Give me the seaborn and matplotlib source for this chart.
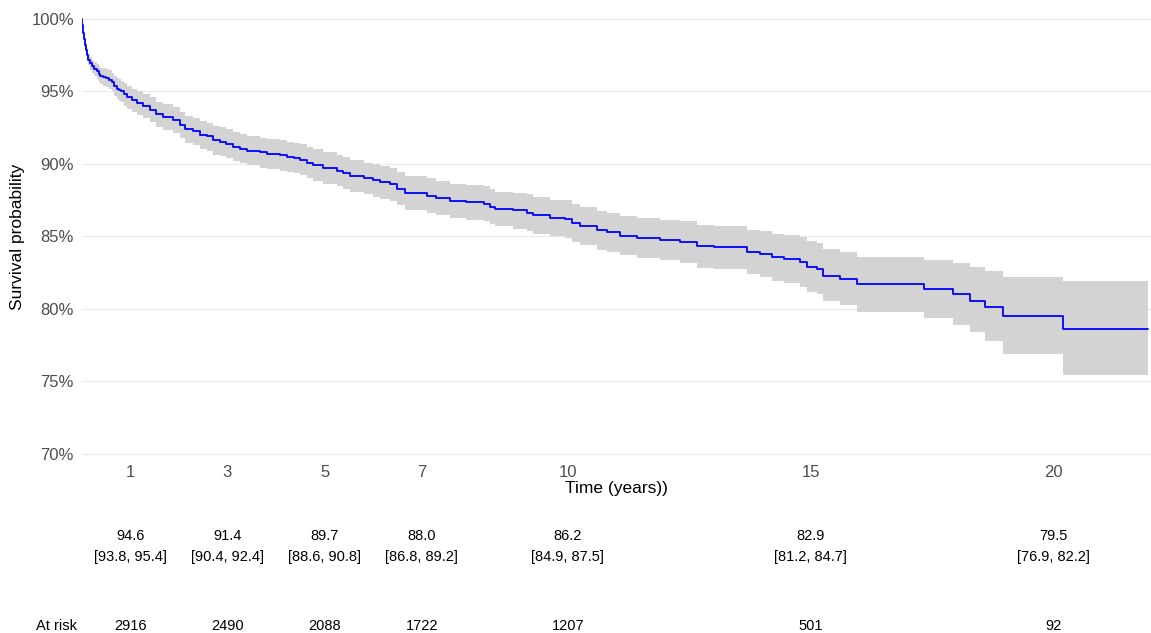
import numpy as np
import pandas as pd
import matplotlib
matplotlib.use("Agg")
import matplotlib.pyplot as plt
import seaborn as sns
from matplotlib.ticker import FuncFormatter
from matplotlib.transforms import blended_transform_factory

# Kaplan-Meier step nodes (years) with survival estimate and 95% CI (%)
times = [0, 0.01, 0.02, 0.034, 0.05, 0.07, 0.09, 0.11, 0.137, 0.17, 0.206, 0.25, 0.309,
         0.35, 0.38, 0.45, 0.51, 0.57, 0.62, 0.67, 0.72, 0.77, 0.82, 0.88, 0.93,
         1.03, 1.13, 1.27, 1.41, 1.54, 1.68, 1.89, 2.02, 2.13, 2.30, 2.43, 2.57, 2.71,
         2.85, 2.98, 3.12, 3.26, 3.40, 3.67, 3.81, 4.08, 4.22, 4.36, 4.49, 4.63, 4.77,
         4.97, 5.25, 5.38, 5.52, 5.80, 6.00, 6.14, 6.34, 6.48, 6.65, 7.10, 7.30, 7.58,
         7.90, 8.27, 8.40, 8.51, 8.88, 9.16, 9.29, 9.64, 9.95, 10.08, 10.26, 10.60,
         10.80, 11.08, 11.42, 11.90, 12.31, 12.66, 13.00, 13.68, 13.96, 14.20, 14.44,
         14.78, 14.92, 15.12, 15.26, 15.60, 15.95, 17.32, 17.92, 18.28, 18.59, 18.95,
         20.19, 21.94]
surv = [100, 99.6, 99.35, 99.0, 98.6, 98.2, 97.88, 97.5, 97.2, 96.95, 96.73, 96.55, 96.38,
        96.2, 96.08, 96.0, 95.92, 95.8, 95.65, 95.4, 95.2, 95.1, 95.0, 94.8, 94.6,
        94.4, 94.2, 94.0, 93.75, 93.45, 93.25, 93.05, 92.7, 92.4, 92.25, 92.0, 91.9, 91.65,
        91.55, 91.4, 91.2, 91.05, 90.9, 90.8, 90.7, 90.6, 90.5, 90.4, 90.3, 90.1, 89.95,
        89.7, 89.55, 89.35, 89.2, 89.0, 88.9, 88.75, 88.6, 88.3, 88.0, 87.8, 87.65, 87.45,
        87.35, 87.25, 87.05, 86.9, 86.8, 86.65, 86.45, 86.3, 86.2, 85.95, 85.7, 85.45,
        85.3, 85.05, 84.9, 84.75, 84.6, 84.35, 84.25, 83.95, 83.8, 83.6, 83.45,
        83.25, 82.9, 82.75, 82.3, 82.1, 81.7, 81.4, 81.0, 80.55, 80.15, 79.5,
        78.6, 78.6]
lower = [100, 99.5, 99.2, 98.8, 98.35, 97.9, 97.55, 97.15, 96.8, 96.5, 96.25, 96.05, 95.85,
         95.65, 95.5, 95.4, 95.3, 95.15, 95.0, 94.7, 94.5, 94.35, 94.25, 94.0, 93.8,
         93.6, 93.35, 93.15, 92.9, 92.55, 92.35, 92.15, 91.8, 91.45, 91.3, 91.05, 90.9, 90.65,
         90.55, 90.4, 90.2, 90.05, 89.9, 89.75, 89.65, 89.55, 89.45, 89.35, 89.25, 89.05, 88.85,
         88.6, 88.45, 88.25, 88.1, 87.9, 87.75, 87.6, 87.45, 87.15, 86.8, 86.6, 86.45, 86.25,
         86.15, 86.05, 85.85, 85.7, 85.55, 85.4, 85.2, 85.0, 84.9, 84.65, 84.4, 84.1,
         83.95, 83.7, 83.5, 83.35, 83.15, 82.85, 82.75, 82.4, 82.2, 81.95, 81.8,
         81.55, 81.2, 81.05, 80.55, 80.3, 79.8, 79.4, 78.9, 78.4, 77.8, 76.9,
         75.45, 75.45]
upper = [100, 99.7, 99.5, 99.2, 98.85, 98.5, 98.2, 97.85, 97.6, 97.4, 97.2, 97.05, 96.9,
         96.75, 96.65, 96.6, 96.54, 96.45, 96.3, 96.1, 95.9, 95.85, 95.75, 95.6, 95.4,
         95.2, 95.05, 94.85, 94.6, 94.3, 94.15, 93.95, 93.6, 93.3, 93.2, 92.95, 92.85, 92.65,
         92.55, 92.4, 92.2, 92.05, 91.9, 91.8, 91.7, 91.65, 91.55, 91.45, 91.35, 91.15, 91.0,
         90.8, 90.65, 90.45, 90.3, 90.1, 90.0, 89.85, 89.7, 89.45, 89.2, 89.0, 88.85, 88.65,
         88.55, 88.45, 88.25, 88.1, 88.0, 87.9, 87.7, 87.55, 87.5, 87.25, 87.0, 86.75,
         86.65, 86.4, 86.3, 86.15, 86.05, 85.8, 85.7, 85.45, 85.35, 85.2, 85.1,
         84.95, 84.7, 84.55, 84.15, 83.95, 83.6, 83.4, 83.15, 82.9, 82.6, 82.2,
         81.9, 81.9]

# Landmark times shown on the axis and in the table below it
tick_years = [1, 3, 5, 7, 10, 15, 20]
at_risk = [2916, 2490, 2088, 1722, 1207, 501, 92]
y_ticks = [70, 75, 80, 85, 90, 95, 100]

df = pd.DataFrame({"time": times, "surv": surv, "lower": lower, "upper": upper})

sns.set_theme(style="white")
plt.rcParams["font.family"] = ["Liberation Sans", "DejaVu Sans"]

fig = plt.figure(figsize=(11.51, 6.33), dpi=100)
ax = fig.add_axes([0.0709, 0.2759, 0.9291, 0.7010])

ax.fill_between(df["time"], df["lower"], df["upper"], step="post",
                color="#D3D3D3", linewidth=0, zorder=2)
sns.lineplot(data=df, x="time", y="surv", drawstyle="steps-post", estimator=None,
             color="#0000FF", linewidth=1.3, ax=ax, zorder=3)

ax.set_xlim(0, 22)
ax.set_ylim(69.7, 100.3)
ax.set_xticks(tick_years)
ax.set_xticklabels([str(t) for t in tick_years])
ax.set_yticks(y_ticks)
ax.yaxis.set_major_formatter(FuncFormatter(lambda v, _: f"{v:.0f}%"))
ax.tick_params(axis="both", length=0, labelsize=12, colors="#4D4D4D")
ax.tick_params(axis="x", pad=4.5)
ax.tick_params(axis="y", pad=5.5)

ax.yaxis.grid(True, color="#EBEBEB", linewidth=1.0)
ax.xaxis.grid(False)
ax.set_axisbelow(True)
for s in ax.spines.values():
    s.set_visible(False)

ax.set_xlabel("Time (years))", fontsize=12.5, color="black")
ax.set_ylabel("Survival probability", fontsize=12.5, color="black")
ax.xaxis.set_label_coords(0.5, -0.052)
ax.yaxis.set_label_coords(-0.053, 0.5)

# Table of landmark estimates and numbers at risk under the axis
tr = blended_transform_factory(ax.transData, fig.transFigure)
t_arr = np.asarray(times)
for yr, n in zip(tick_years, at_risk):
    i = np.searchsorted(t_arr, yr, side="right") - 1
    ax.text(yr, 1 - 536 / 633, f"{surv[i]:.1f}", transform=tr, ha="center",
            va="center", fontsize=10.5, color="black", clip_on=False)
    ax.text(yr, 1 - 557 / 633, f"[{lower[i]:.1f}, {upper[i]:.1f}]", transform=tr,
            ha="center", va="center", fontsize=10.5, color="black", clip_on=False)
    ax.text(yr, 1 - 626 / 633, f"{n}", transform=tr, ha="center", va="center",
            fontsize=10.5, color="black", clip_on=False)
fig.text(57 / 1151, 1 - 626 / 633, "At risk", ha="center", va="center",
         fontsize=10.5, color="black")

fig.savefig("out.png", dpi=100)
